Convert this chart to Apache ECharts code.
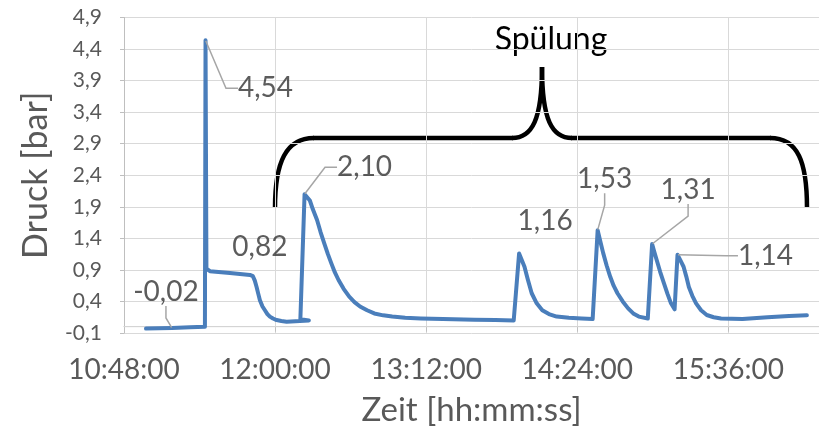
<!DOCTYPE html>
<html><head><meta charset="utf-8">
<script src="https://cdn.jsdelivr.net/npm/echarts@6/dist/echarts.min.js"></script>
<style>html,body{margin:0;padding:0;background:#fff}#c{width:819px;height:434px}</style>
</head><body><div id="c"></div>
<script>
// ---- data ----
const times = [
  '10:58:29','11:10:51','11:19:26','11:26:34','11:26:51','11:27:17','11:28:57','11:38:29','11:48:00','11:49:26',
  '11:50:20','11:51:11','11:52:00','11:52:46','11:54:00','11:55:09','11:56:20','11:57:31','11:59:00','12:00:43',
  '12:03:00','12:05:29','12:11:49','12:16:06','12:12:03','12:14:03','12:15:00','12:16:34','12:18:00','12:20:00',
  '12:21:40','12:23:26','12:25:10','12:26:51','12:28:30','12:30:14','12:32:40','12:35:20','12:37:50','12:40:29',
  '12:43:50','12:47:17','12:51:30','12:55:49','13:02:00','13:09:26','13:20:00','13:35:00','13:45:00','13:53:43',
  '13:54:34','13:56:17','13:57:30','13:58:51','14:00:30','14:02:17','14:04:40','14:07:20','14:10:30','14:14:11',
  '14:20:00','14:26:06','14:31:20','14:32:03','14:33:43','14:35:00','14:36:20','14:38:00','14:39:43','14:41:20',
  '14:43:09','14:45:40','14:48:14','14:50:40','14:53:20','14:57:37','14:58:09','14:59:40','15:00:40','15:01:49',
  '15:03:30','15:05:17','15:07:00','15:08:40','15:10:23','15:10:43','15:11:46','15:13:10','15:14:40','15:16:00',
  '15:17:11','15:18:50','15:20:37','15:23:00','15:25:43','15:29:00','15:32:31','15:42:46','15:54:40','16:04:54',
  '16:13:26'];
const pressure = [
  -0.03,-0.02,-0.01,0.00,4.54,0.92,0.88,0.85,0.82,0.80,
  0.73,0.63,0.52,0.42,0.32,0.26,0.20,0.16,0.13,0.105,
  0.09,0.08,0.09,0.10,0.12,2.10,2.07,2.00,1.86,1.69,
  1.50,1.32,1.15,1.00,0.86,0.74,0.60,0.475,0.39,0.32,
  0.26,0.21,0.18,0.16,0.14,0.13,0.12,0.11,0.105,0.10,
  0.11,1.16,1.06,0.95,0.74,0.53,0.37,0.26,0.20,0.16,
  0.14,0.13,0.12,0.12,1.53,1.35,1.17,0.97,0.79,0.65,
  0.53,0.40,0.29,0.21,0.16,0.13,0.13,1.31,1.19,1.06,
  0.87,0.69,0.52,0.37,0.275,0.28,1.14,1.05,0.95,0.79,
  0.63,0.49,0.37,0.26,0.185,0.15,0.13,0.12,0.15,0.17,
  0.18];

const labelTimes  = ['11:10:51','11:26:51','11:48:00','12:14:03','13:56:17','14:33:43','14:59:40','15:11:46'];
const labelValues = [-0.02, 4.54, 0.82, 2.10, 1.16, 1.53, 1.31, 1.14];
const leaderShown = [true, true, false, true, false, true, true, true];

const xAxisStart = '10:48:00';
const xAxisEnd = '16:19:12';
const xTickStepMin = 72;
const yMin = -0.1, yMax = 4.9, yStep = 0.5;

const axisTitleX = 'Zeit [hh:mm:ss]';
const axisTitleY = 'Druck [bar]';
const bracketTitle = 'Spülung';

// ---- layout / style (not data) ----
const labelDx = [-6, 60, 10, 60, 26, 7, 36, 88];
const labelDy = [-36, 48, -28, -27, -33, -51, -54, 1];
const FONT = 'Lato';

function toMin(s){ const p = s.split(':').map(Number); return p[0]*60 + p[1] + p[2]/60; }
function fmtTime(v){
  let sec = Math.round(v*60);
  const h = Math.floor(sec/3600); sec -= h*3600;
  const m = Math.floor(sec/60); const s = sec - m*60;
  const pad = n => String(n).padStart(2,'0');
  return h + ':' + pad(m) + ':' + pad(s);
}
function comma(v, d){ return v.toFixed(d).replace('.', ','); }

const xMin = toMin(xAxisStart), xMax = toMin(xAxisEnd);
const lineData = times.map((t,i) => [toMin(t), pressure[i]]);
const labelData = labelTimes.map((t,i) => ({
  value: [toMin(t), labelValues[i]],
  labelLine: { show: leaderShown[i] }
}));

const chart = echarts.init(document.getElementById('c'), null, {renderer:'canvas'});
chart.setOption({
  animation: false,
  backgroundColor: '#fff',
  textStyle: { fontFamily: FONT },
  grid: { left: 124, right: 0, top: 17.5, bottom: 101, containLabel: false, outerBoundsMode: 'none' },
  xAxis: {
    type: 'value', min: xMin, max: xMax, interval: xTickStepMin,
    axisLine: { show: true, lineStyle: { color: '#bfbfbf', width: 1 } },
    axisTick: { show: true, length: 5, lineStyle: { color: '#bfbfbf' } },
    splitLine: { show: true, lineStyle: { color: '#d9d9d9', width: 1 } },
    axisLabel: { showMaxLabel: false, formatter: v => fmtTime(v), color: '#595959', fontSize: 28, fontFamily: FONT, margin: 23 },
    name: axisTitleX, nameLocation: 'middle', nameGap: 61,
    nameTextStyle: { color: '#595959', fontSize: 33, fontFamily: FONT }
  },
  yAxis: {
    type: 'value', min: yMin, max: yMax, interval: yStep,
    axisLine: { show: true, lineStyle: { color: '#bfbfbf', width: 1 } },
    axisTick: { show: true, length: 4, lineStyle: { color: '#bfbfbf' } },
    splitLine: { show: true, lineStyle: { color: '#d9d9d9', width: 1 } },
    axisLabel: { formatter: v => comma(v, 1), color: '#595959', fontSize: 21, fontFamily: FONT, margin: 22 },
    name: axisTitleY, nameLocation: 'middle', nameRotate: 90, nameGap: 71,
    nameTextStyle: { color: '#595959', fontSize: 34, fontFamily: FONT }
  },
  series: [
    {
      type: 'line', data: [[xMin, 0], [xMax, 0]], symbol: 'none', silent: true, z: 1,
      lineStyle: { color: '#d9d9d9', width: 1 }
    },
    {
      type: 'line', data: lineData, showSymbol: false, symbol: 'none', z: 3,
      lineStyle: { color: '#4a7ebb', width: 4, cap: 'round', join: 'round' }
    },
    {
      type: 'scatter', data: labelData, symbolSize: 1, z: 4,
      itemStyle: { color: '#4a7ebb' },
      label: {
        show: true, position: 'inside', formatter: p => comma(p.value[1], 2),
        color: '#333333', fontSize: 28, fontFamily: FONT, padding: [0, 4]
      },
      labelLine: { show: true, length2: 12, lineStyle: { color: '#a6a6a6', width: 1.5 } },
      labelLayout: p => ({ dx: labelDx[p.dataIndex], dy: labelDy[p.dataIndex] })
    }
  ],
  graphic: [
    { type: 'bezierCurve', shape: { x1: 275, y1: 208, cpx1: 275, cpy1: 162, cpx2: 286, cpy2: 138, x2: 314, y2: 138 }, style: { stroke: '#000', lineWidth: 4.5, fill: null } },
    { type: 'line', shape: { x1: 313, y1: 138, x2: 513, y2: 138 }, style: { stroke: '#000', lineWidth: 4.5 } },
    { type: 'bezierCurve', shape: { x1: 512, y1: 138, cpx1: 532, cpy1: 138, cpx2: 542, cpy2: 120, x2: 542, y2: 67 }, style: { stroke: '#000', lineWidth: 4.5, fill: null } },
    { type: 'bezierCurve', shape: { x1: 542, y1: 67, cpx1: 542, cpy1: 120, cpx2: 552, cpy2: 138, x2: 572, y2: 138 }, style: { stroke: '#000', lineWidth: 4.5, fill: null } },
    { type: 'line', shape: { x1: 571, y1: 138, x2: 771, y2: 138 }, style: { stroke: '#000', lineWidth: 4.5 } },
    { type: 'bezierCurve', shape: { x1: 770, y1: 138, cpx1: 798, cpy1: 138, cpx2: 807, cpy2: 162, x2: 807, y2: 208 }, style: { stroke: '#000', lineWidth: 4.5, fill: null } },
    { type: 'text', x: 551, y: 40, style: { text: bracketTitle, fontSize: 32, fontFamily: FONT, fill: '#000', align: 'center', verticalAlign: 'middle' } }
  ]
});
</script>
</body></html>
